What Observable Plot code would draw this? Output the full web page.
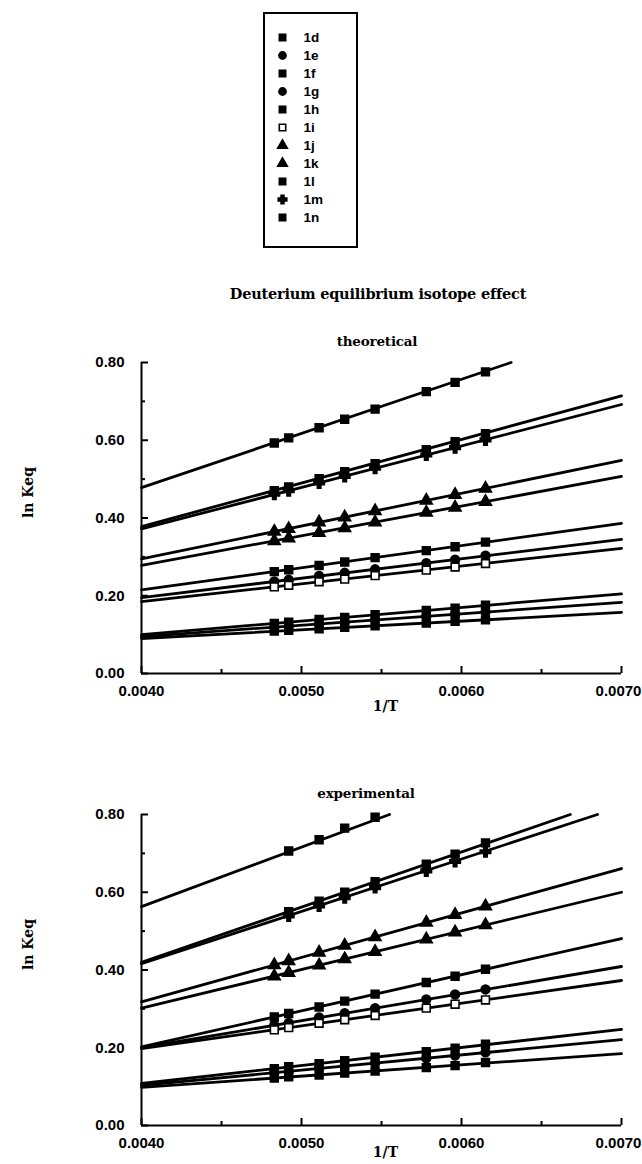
<!DOCTYPE html>
<html><head><meta charset="utf-8">
<script src="https://cdn.jsdelivr.net/npm/d3@7"></script>
<script src="https://cdn.jsdelivr.net/npm/@observablehq/plot@0.6"></script>
<style>
html,body{margin:0;padding:0;background:#fff;}
#page{position:relative;width:642px;height:1164px;overflow:hidden;background:#fff;}
.abs{position:absolute;}
.ttl{font-family:"DejaVu Serif",serif;font-weight:bold;color:#000;white-space:nowrap;transform:translate(-50%,-50%);}
#legend{position:absolute;left:263px;top:12px;width:95px;height:236px;border:2px solid #000;box-sizing:border-box;}
svg{overflow:visible;}
</style></head><body><div id="page">
<div id="legend"></div>
<div class="abs ttl" style="left:378px;top:293px;font-size:14.5px;letter-spacing:-0.2px;">Deuterium equilibrium isotope effect</div>
<div class="abs ttl" style="left:377px;top:341px;font-size:13.5px;letter-spacing:-0.2px;">theoretical</div>
<div class="abs ttl" style="left:366px;top:793px;font-size:13.5px;letter-spacing:-0.2px;">experimental</div>
<div class="abs" id="c1" style="left:0;top:350px;"></div>
<div class="abs" id="c2" style="left:0;top:802px;"></div>
</div>
<script>
// ---------- data ----------
const seriesNames = ["1d","1e","1f","1g","1h","1i","1j","1k","1l","1m","1n"];
const invT = [0.00483, 0.00492, 0.00511, 0.00527, 0.00546, 0.00578, 0.00596, 0.00615];
const xTickValues = [0.0040, 0.0050, 0.0060, 0.0070];
const xMinorTicks = [0.0045, 0.0055, 0.0065];
const yTickValues = [0.00, 0.20, 0.40, 0.60, 0.80];
const yMinorTicks = [0.10, 0.30, 0.50, 0.70];

// theoretical ln Keq read at each 1/T
const theo1d = [0.129, 0.132, 0.139, 0.144, 0.151, 0.162, 0.168, 0.176];
const theo1e = [0.119, 0.122, 0.127, 0.132, 0.138, 0.147, 0.152, 0.158];
const theo1f = [0.470, 0.480, 0.501, 0.519, 0.540, 0.576, 0.596, 0.617];
const theo1g = [0.237, 0.241, 0.251, 0.259, 0.268, 0.284, 0.293, 0.303];
const theo1h = [0.109, 0.111, 0.115, 0.119, 0.123, 0.130, 0.134, 0.138];
const theo1i = [0.223, 0.227, 0.236, 0.243, 0.252, 0.266, 0.274, 0.283];
const theo1j = [0.365, 0.372, 0.389, 0.402, 0.418, 0.445, 0.460, 0.476];
const theo1k = [0.341, 0.348, 0.362, 0.374, 0.389, 0.414, 0.427, 0.442];
const theo1l = [0.593, 0.606, 0.632, 0.654, 0.680, 0.725, 0.749, 0.776];
const theo1m = [0.461, 0.470, 0.490, 0.507, 0.528, 0.562, 0.581, 0.601];
const theo1n = [0.262, 0.267, 0.278, 0.287, 0.298, 0.316, 0.326, 0.338];
// fitted lines (start at 1/T = 0.0040, end where drawn)
const theoLineStartY = [0.100, 0.095, 0.378, 0.195, 0.090, 0.185, 0.295, 0.278, 0.478, 0.372, 0.215];
const theoLineEndX   = [0.0070, 0.0070, 0.0070, 0.0070, 0.0070, 0.0070, 0.0070, 0.0070, 0.00631, 0.0070, 0.0070];
const theoLineEndY   = [0.205, 0.183, 0.714, 0.345, 0.157, 0.322, 0.548, 0.507, 0.800, 0.692, 0.386];

// experimental ln Keq read at each 1/T
const expt1d = [0.146, 0.151, 0.159, 0.167, 0.176, 0.190, 0.199, 0.209];
const expt1e = [0.136, 0.139, 0.147, 0.153, 0.160, 0.173, 0.180, 0.188];
const expt1f = [null, 0.550, 0.577, 0.600, 0.627, 0.672, 0.698, 0.727];
const expt1g = [0.258, 0.264, 0.278, 0.289, 0.302, 0.324, 0.337, 0.350];
const expt1h = [0.122, 0.125, 0.130, 0.135, 0.140, 0.149, 0.154, 0.162];
const expt1i = [0.246, 0.252, 0.263, 0.272, 0.283, 0.302, 0.312, 0.323];
const expt1j = [0.413, 0.423, 0.445, 0.463, 0.485, 0.522, 0.542, 0.564];
const expt1k = [0.384, 0.393, 0.412, 0.428, 0.447, 0.479, 0.497, 0.516];
const expt1l = [null, 0.706, 0.735, 0.765, 0.793, null, null, null];
const expt1m = [null, 0.539, 0.565, 0.586, 0.612, 0.655, 0.679, 0.704];
const expt1n = [0.279, 0.288, 0.305, 0.320, 0.338, 0.368, 0.384, 0.402];
const exptLineStartY = [0.108, 0.103, 0.420, 0.200, 0.098, 0.198, 0.318, 0.302, 0.563, 0.416, 0.202];
const exptLineEndX   = [0.0070, 0.0070, 0.00668, 0.0070, 0.0070, 0.0070, 0.0070, 0.0070, 0.00555, 0.00685, 0.0070];
const exptLineEndY   = [0.247, 0.221, 0.800, 0.409, 0.185, 0.373, 0.661, 0.600, 0.800, 0.800, 0.481];

// ---------- styles ----------
const symbolRange = ["square","circle","square","circle","square","square","triangle","triangle","square","cross","square"];
const openSeries = "1i";
const sansFont = "'Liberation Sans', Arial, sans-serif";
const serifFont = "'DejaVu Serif', serif";

function makeChart(markerArrays, lineStartY, lineEndX, lineEndY, mb, labelDy) {
  const points = [];
  const lines = [];
  seriesNames.forEach((name, i) => {
    markerArrays[i].forEach((v, j) => { if (v != null) points.push({name, x: invT[j], y: v}); });
    lines.push({name, x: xTickValues[0], y: lineStartY[i]});
    lines.push({name, x: lineEndX[i], y: lineEndY[i]});
  });
  const mt = 12, plotH = 311, plotW = 480;
  const fmtX = d3.format(".4f");
  return Plot.plot({
    width: 642, height: mt + plotH + mb,
    marginLeft: 141, marginRight: 21, marginTop: mt, marginBottom: mb,
    x: {domain: [xTickValues[0], xTickValues[xTickValues.length - 1]]},
    y: {domain: [yTickValues[0], yTickValues[yTickValues.length - 1]]},
    symbol: {domain: seriesNames, range: symbolRange},
    style: {background: "transparent", fontFamily: sansFont, fontSize: "15px", fontWeight: "bold", color: "#000", overflow: "visible"},
    marks: [
      Plot.axisX({ticks: xTickValues.slice(0, -1), tickFormat: fmtX, tickSize: 0, tickPadding: 12, label: null}),
      Plot.axisX({ticks: xTickValues.slice(-1), tickFormat: fmtX, tickSize: 0, tickPadding: 12, dx: -3, label: null}),
      Plot.axisY({ticks: yTickValues, tickFormat: d3.format(".2f"), tickSize: 0, tickPadding: 17, label: null}),
      Plot.ruleX([xTickValues[0]], {stroke: "#000", strokeWidth: 2}),
      Plot.ruleY([yTickValues[0]], {stroke: "#000", strokeWidth: 2}),
      Plot.tickY(yTickValues, {y: d => d, insetRight: plotW - 7, stroke: "#000", strokeWidth: 2}),
      Plot.tickY(yMinorTicks, {y: d => d, insetRight: plotW - 4, stroke: "#000", strokeWidth: 2}),
      Plot.tickX(xTickValues, {x: d => d, insetTop: plotH - 7, stroke: "#000", strokeWidth: 2}),
      Plot.tickX(xMinorTicks, {x: d => d, insetTop: plotH - 4, stroke: "#000", strokeWidth: 2}),
      Plot.line(lines, {x: "x", y: "y", z: "name", stroke: "#000", strokeWidth: 2.8}),
      Plot.dot(points, {x: "x", y: "y", symbol: "name", r: 4.4,
        fill: d => d.name === openSeries ? "#fff" : "#000", stroke: "#000", strokeWidth: 1.6}),
      Plot.text(["1/T"], {text: d => d, frameAnchor: "bottom", dx: 4, dy: labelDy, fontFamily: serifFont, fontSize: 14, fontWeight: "bold"}),
      Plot.text(["ln Keq"], {text: d => d, frameAnchor: "left", dx: -113, rotate: -90, fontFamily: serifFont, fontSize: 14, fontWeight: "bold"})
    ]
  });
}

document.getElementById("c1").appendChild(makeChart(
  [theo1d, theo1e, theo1f, theo1g, theo1h, theo1i, theo1j, theo1k, theo1l, theo1m, theo1n],
  theoLineStartY, theoLineEndX, theoLineEndY, 50, 37));
document.getElementById("c2").appendChild(makeChart(
  [expt1d, expt1e, expt1f, expt1g, expt1h, expt1i, expt1j, expt1k, expt1l, expt1m, expt1n],
  exptLineStartY, exptLineEndX, exptLineEndY, 40, 31));

// legend
document.getElementById("legend").appendChild(Plot.plot({
  width: 91, height: 232, margin: 0,
  y: {type: "point", domain: seriesNames, range: [14, 212], axis: null},
  symbol: {domain: seriesNames, range: symbolRange},
  style: {background: "transparent", fontFamily: sansFont, fontSize: "13.5px", fontWeight: "bold", color: "#000"},
  marks: [
    Plot.dot(seriesNames, {y: d => d, symbol: d => d, frameAnchor: "left", dx: 17, r: 3.6,
      fill: d => d === openSeries ? "#fff" : "#000", stroke: "#000", strokeWidth: 1.6}),
    Plot.text(seriesNames, {y: d => d, text: d => d, frameAnchor: "left", dx: 38, textAnchor: "start"})
  ]
}));
</script>
</body></html>
